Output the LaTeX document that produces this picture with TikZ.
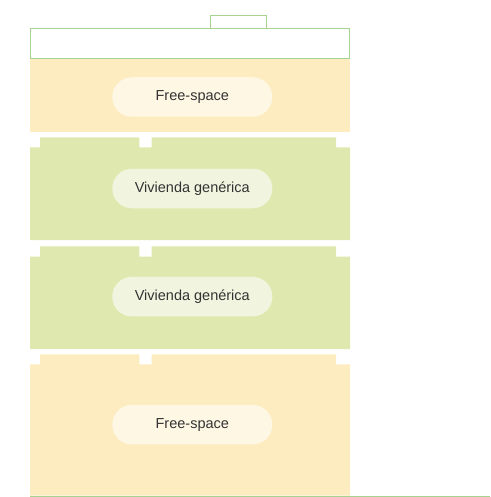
\documentclass[tikz,border=0pt]{standalone}
\usepackage{fontspec}
\setmainfont{Liberation Sans}
\begin{document}
\begin{tikzpicture}[x=1pt,y=-1pt,
  outl/.style={draw=outgreen,line width=1pt},
  yband/.style={fill=yfill},
  gband/.style={fill=gfill},
  ypill/.style={fill=ypillc,rounded corners=19.5pt,minimum width=160pt,minimum height=39.5pt,inner sep=0pt,text=txt,font=\fontsize{14.5}{16}\selectfont},
  gpill/.style={ypill,fill=gpillc}]
\definecolor{outgreen}{HTML}{A6D38F}
\definecolor{yfill}{HTML}{FDECC0}
\definecolor{gfill}{HTML}{DFE8AE}
\definecolor{ypillc}{HTML}{FEF7E4}
\definecolor{gpillc}{HTML}{F1F5DF}
\definecolor{txt}{HTML}{333333}
\useasboundingbox (0,0) rectangle (490,497);
% top outlined elements
\draw[outl] (210,15.5) rectangle (266.5,28.3);
\draw[outl] (30.5,28.3) rectangle (349.5,58.3);
% band 1: free-space
\fill[yband] (30,58.8) rectangle (350,132.3);
% green block 1
\fill[gband] (30,147.5) -- (40,147.5) -- (40,137.3) -- (139.3,137.3) -- (139.3,147.5) -- (151.7,147.5) -- (151.7,137.3) -- (336,137.3) -- (336,147.5) -- (350,147.5) -- (350,240) -- (30,240) -- cycle;
% green block 2
\fill[gband] (30,256.7) -- (40,256.7) -- (40,246.3) -- (139.3,246.3) -- (139.3,256.7) -- (151.7,256.7) -- (151.7,246.3) -- (336,246.3) -- (336,256.7) -- (350,256.7) -- (350,349) -- (30,349) -- cycle;
% yellow block 2
\fill[yband] (30,364.3) -- (40,364.3) -- (40,354.3) -- (139.3,354.3) -- (139.3,364.3) -- (151.7,364.3) -- (151.7,354.3) -- (336,354.3) -- (336,364.3) -- (350,364.3) -- (350,495.5) -- (30,495.5) -- cycle;
% bottom line
\coordinate (l1) at (30,496);
\coordinate (l2) at (490,496);
\draw[draw=outgreen,line width=1pt] (l1) -- (l2);
% pills
\node[ypill] (p1) at (192.3,97) {Free-space};
\node[gpill] (p2) at (192.3,188.5) {Vivienda genérica};
\node[gpill] (p3) at (192.3,296.7) {Vivienda genérica};
\node[ypill] (p4) at (192.3,424.7) {Free-space};
\end{tikzpicture}
\end{document}
